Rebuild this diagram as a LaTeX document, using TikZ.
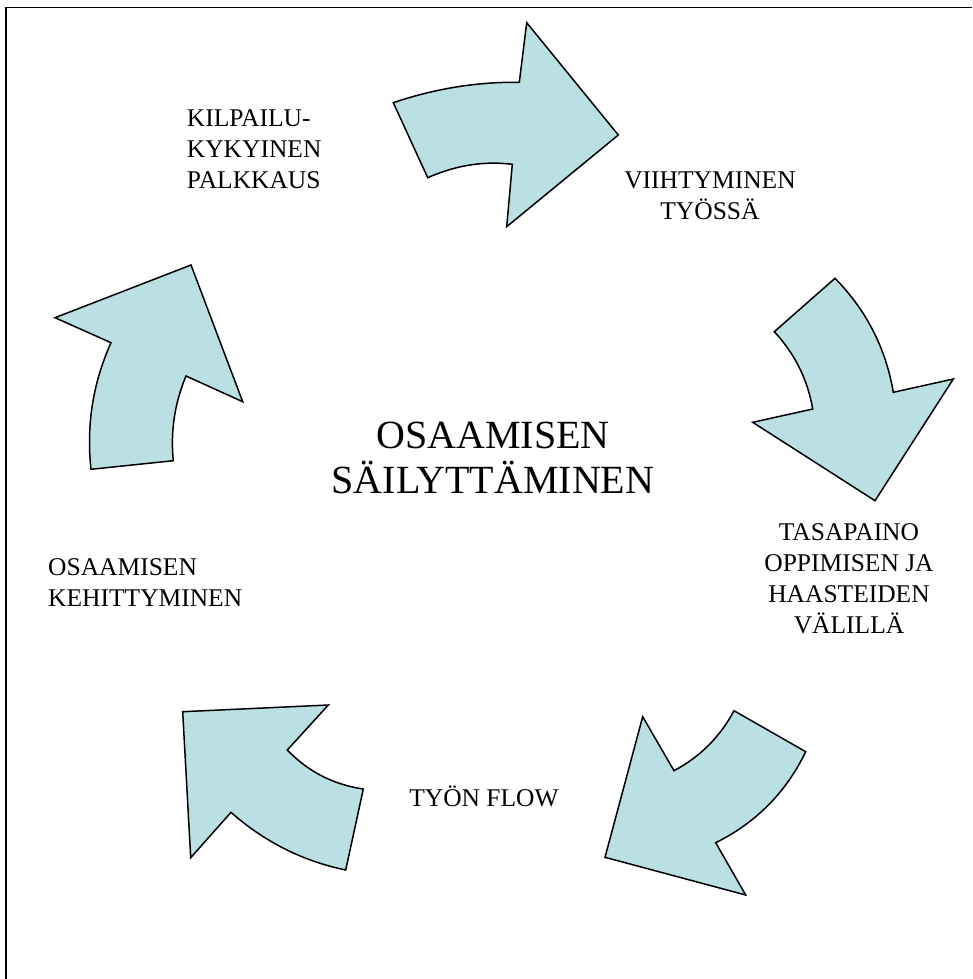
\documentclass[tikz,border=0pt]{standalone}
\usepackage{fontspec}
\setmainfont{Liberation Serif}
\begin{document}
\begin{tikzpicture}[x=1pt,y=-1pt,
  cyclearrow/.style={draw=black,line width=1.5pt,fill=arrowfill,line join=miter},
  label/.style={inner sep=0pt,font=\fontsize{25.5}{31}\selectfont},
  title/.style={inner sep=0pt,align=center,font=\fontsize{40}{45}\selectfont}]
\definecolor{arrowfill}{RGB}{187,224,227}
\useasboundingbox (0,0) rectangle (972,979);
\fill[white] (0,0) rectangle (972,979);
% frame
\draw[line width=1.6pt] (6,979) -- (6,7.5) -- (972,7.5);

% top arrow
\draw[cyclearrow] (393.3,102.7) .. controls (434.9,88.6) and (476.9,81.8) .. (519.3,82.3)
  -- (526.7,22.7) -- (618.3,135) -- (506.7,226.7) -- (512.3,164.3)
  .. controls (484.1,160.8) and (455.9,165.2) .. (427.7,177.7) -- cycle;
% right arrow
\draw[cyclearrow] (774.3,331.7) -- (835,278.3)
  .. controls (866.4,310.3) and (885.8,348.3) .. (893.3,392.3)
  -- (953.3,379) -- (875,500.7) -- (752.7,422.3) -- (812.7,409)
  .. controls (807.6,379.4) and (794.8,353.7) .. cycle;
% bottom right arrow
\draw[cyclearrow] (734,710.7) -- (805.7,751.7)
  .. controls (786.1,792.3) and (756.1,822.6) .. (715.7,842.7)
  -- (745.7,895) -- (605,857.3) -- (642.7,716.7) -- (674,770.7)
  .. controls (700.1,756.8) and (720.1,736.8) .. cycle;
% bottom left arrow
\draw[cyclearrow] (345.7,870) -- (363.3,789)
  .. controls (333.6,784.7) and (308.2,771.7) .. (287.3,750)
  -- (328.3,705) -- (182.7,711.7) -- (190.7,857.7) -- (231,812.3)
  .. controls (264.2,841.7) and (302.5,861) .. cycle;
% left arrow
\draw[cyclearrow] (91,469.3) -- (173.3,460.7)
  .. controls (170.4,431.5) and (174.6,403.2) .. (186,376)
  -- (242.7,401.7) -- (191,265) -- (55,317.7) -- (111,342.7)
  .. controls (92.9,383) and (86.2,425.2) .. cycle;

% labels (base anchor sits on the last line)
\node[label,align=left,anchor=base west] (pay) at (186.7,188.7)
  {KILPAILU-\\KYKYINEN\\PALKKAUS};
\node[label,align=center,anchor=base] (comfort) at (710,219)
  {VIIHTYMINEN\\TYÖSSÄ};
\node[label,align=center,anchor=base] (balance) at (849,633)
  {TASAPAINO\\OPPIMISEN JA\\HAASTEIDEN\\ VÄLILLÄ};
\node[label,anchor=base] (flow) at (484,806) {TYÖN FLOW};
\node[label,align=left,anchor=base west] (growth) at (48,606)
  {OSAAMISEN\\KEHITTYMINEN};
\node[title,anchor=base] (core) at (493,493)
  {OSAAMISEN\\SÄILYTTÄMINEN};
\end{tikzpicture}
\end{document}
